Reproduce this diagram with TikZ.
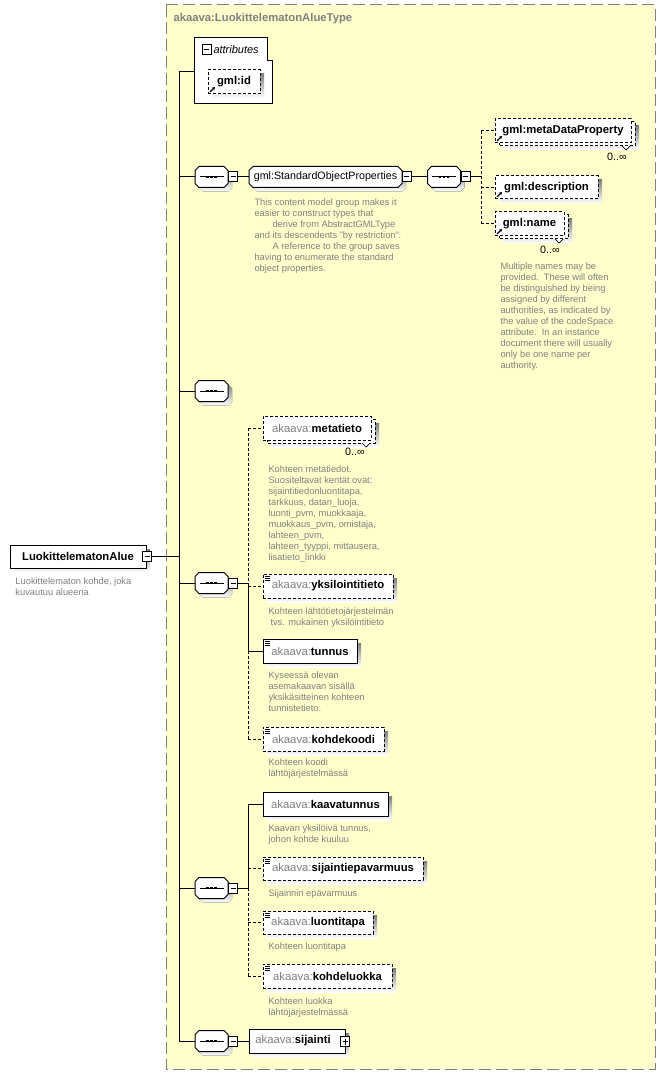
\documentclass[tikz,border=0pt]{standalone}
\usepackage{fontspec}
\setmainfont{Liberation Sans}
\usetikzlibrary{arrows.meta}
\definecolor{paper}{RGB}{255,255,204}
\definecolor{shade}{RGB}{192,192,192}
\definecolor{remark}{RGB}{128,128,128}
\definecolor{rim}{RGB}{128,128,128}
\newcommand{\namefont}{\fontsize{11.3}{13}\selectfont\bfseries}
\newcommand{\plainfont}{\fontsize{10.7}{13}\selectfont}
\newcommand{\notefont}{\fontsize{9.3}{11}\selectfont}
\newcommand{\attrfont}{\fontsize{11}{13}\selectfont\itshape}
\newcommand{\ak}[1]{{\mdseries\color{remark}akaava:}#1}
% octagon with its shadow: centre x, centre y, half width, half height
\newcommand{\octo}[4]{
  \fill[shade, shift={(4,4)}] (#1-#3+4,#2-#4) -- (#1+#3-4,#2-#4) -- (#1+#3,#2-#4+4) -- (#1+#3,#2+#4-4) -- (#1+#3-4,#2+#4) -- (#1-#3+4,#2+#4) -- (#1-#3,#2+#4-4) -- (#1-#3,#2-#4+4) -- cycle;
  \draw[fill=white] (#1-#3+4,#2-#4) -- (#1+#3-4,#2-#4) -- (#1+#3,#2-#4+4) -- (#1+#3,#2+#4-4) -- (#1+#3-4,#2+#4) -- (#1-#3+4,#2+#4) -- (#1-#3,#2+#4-4) -- (#1-#3,#2-#4+4) -- cycle;
}
\newcommand{\seqnode}[3]{
  \octo{#2}{#3}{16.5}{10.5}
  \node[seqhit] (#1) at (#2,#3) {};
  \draw ([xshift=-12pt]#1.center) -- ([xshift=12pt]#1.center);
  \foreach \d in {-4,0,4}{\fill ([xshift=\d pt]#1.center) +(-1.4pt,-1.4pt) rectangle +(1.4pt,1.4pt);}
}
\newcommand{\elembox}[7][]{
  \fill[shade] (#3+4,#4+4) rectangle (#5+4,#6+4);
  \node[boxline, #1, minimum width={(#5-#3)*1pt}, minimum height={(#6-#4)*1pt}] (#2) at ({(#3+#5)/2},{(#4+#6)/2}) {#7};
}
\newcommand{\manybox}[6]{
  \fill[shade] (#2+8,#3+7) rectangle (#4+8,#5+7);
  \draw[fill=white, opt] (#2+4,#3+3) rectangle (#4+4,#5+3);
  \draw[line width=.7pt, fill=white] (#4-9,#5+3) -- (#4-5,#5+7) -- (#4-1,#5+3);
  \node[boxline, opt, minimum width={(#4-#2)*1pt}, minimum height={(#5-#3)*1pt}] (#1) at ({(#2+#4)/2},{(#3+#5)/2}) {#6};
}
\newcommand{\refmark}[1]{\draw[line width=1.1pt,-{Stealth[length=3pt,width=3.5pt]}] ([xshift=2pt,yshift=2pt]#1.south west) -- ++(5pt,5pt);}
\newcommand{\typemark}[1]{\foreach \k in {2,4,6}{\draw[line width=.7pt] ([xshift=1.5pt,yshift=-\k pt]#1.north west) -- ++(5pt,0pt);}}

\begin{document}
\begin{tikzpicture}[x=1pt, y=-1pt, line width=1pt,
  seqhit/.style={minimum width=33pt, minimum height=21pt, inner sep=0pt, outer sep=0pt},
  boxline/.style={draw, fill=white, inner sep=0pt, outer sep=0pt, font=\namefont},
  opt/.style={dash pattern=on 3pt off 2pt},
  toggle/.style={draw, fill=white, minimum width=9pt, minimum height=10pt, inner sep=0pt, outer sep=0pt},
  minus/.style={toggle, path picture={\draw ([xshift=2pt]path picture bounding box.west) -- ([xshift=-2pt]path picture bounding box.east);}},
  plus/.style={toggle, path picture={\draw ([xshift=2pt]path picture bounding box.west) -- ([xshift=-2pt]path picture bounding box.east);
    \draw ([yshift=-2pt]path picture bounding box.north) -- ([yshift=2pt]path picture bounding box.south);}},
  memo/.style={anchor=north west, align=left, inner sep=0pt, font=\notefont, text=remark},
  occurs/.style={inner sep=0pt, font=\plainfont}]
\fill[white] (0,0) rectangle (665,1075);
\useasboundingbox (0,0) rectangle (665,1075);
\draw[rim, fill=paper, dash pattern=on 12pt off 5pt] (166,5) rectangle (655,1069);
\node[anchor=base west, inner sep=0pt, font=\namefont, text=rim] (title) at (173,22) {akaava:LuokittelematonAlueType};

% root element
\elembox{root}{10}{545}{146}{568}{LuokittelematonAlue}
\node[minus] (rm) at (147,556) {};
\node[memo] (rootnote) at (15,577) {Luokittelematon kohde, joka\\kuvautuu alueena};

% attributes
\draw[fill=white] (194,38) -- (267,38) -- (267,61) -- (272,61) -- (272,104) -- (194,104) -- cycle;
\node[minus] (am) at (206.5,50) {};
\node[anchor=base west, inner sep=0pt, font=\attrfont] (attrs) at (213,54) {attributes};
\elembox[opt]{gmlid}{208}{70}{260}{94}{gml:id}
\refmark{gmlid}

\coordinate (tTop) at (179,72);
\coordinate (tBot) at (179,1041);
\coordinate (attrIn) at (194,72);
\draw (tTop) -- (tBot);
\draw (tTop) -- (attrIn);

% StandardObjectProperties
\seqnode{s1}{211.5}{177}
\node[minus] (s1m) at (233,177) {};
\octo{325.5}{177}{76.5}{10.5}
\node[seqhit, minimum width=153pt, font=\plainfont] (sop) at (325.5,177) {gml:StandardObjectProperties};
\node[minus] (sopm) at (406.5,177) {};
\node[memo] (sopnote) at (254,198) {This content model group makes it\\easier to construct types that\\\hspace*{18pt}derive from AbstractGMLType\\and its descendents "by restriction".\\\hspace*{18pt}A reference to the group saves\\having to enumerate the standard\\object properties.};
\seqnode{s2}{444}{177}
\node[minus] (s2m) at (465.5,177) {};
\coordinate (j2) at (481,177);

\manybox{mdp}{495}{119}{631}{143}{gml:metaDataProperty}
\refmark{mdp}
\node[occurs] (mdpn) at (617,157) {0..∞};
\elembox[opt]{gdesc}{495}{176}{598}{199}{gml:description}
\refmark{gdesc}
\manybox{gname}{495}{212}{564}{236}{gml:name}
\refmark{gname}
\node[occurs] (gnamen) at (550,250) {0..∞};
\node[memo] (gnamenote) at (500,262) {Multiple names may be\\provided.\ \ These will often\\be distinguished by being\\assigned by different\\authorities, as indicated by\\the value of the codeSpace\\attribute.\ \ In an instance\\document there will usually\\only be one name per\\authority.};

\draw (s1m.east) -- (sop.west);
\draw (sopm.east) -- (s2.west);
\draw (s2m.east) -- (j2);
\draw[opt] (j2 |- mdp.west) -- (j2 |- gname.west);
\foreach \e in {mdp,gdesc,gname} \draw[opt] (j2 |- \e.west) -- (\e.west);

% empty sequence
\seqnode{s3}{211.5}{391}

% metatieto group
\seqnode{s4}{211.5}{583}
\node[minus] (s4m) at (233,583) {};
\coordinate (j4) at (248,583);
\manybox{meta}{263}{416}{371}{440}{\ak{metatieto}}
\node[occurs] (metan) at (355,452) {0..∞};
\node[memo] (metanote) at (268,465) {Kohteen metatiedot.\\Suositeltavat kentät ovat:\\sijaintitiedonluontitapa,\\tarkkuus, datan\_luoja,\\luonti\_pvm, muokkaaja,\\muokkaus\_pvm, omistaja,\\lahteen\_pvm,\\lahteen\_tyyppi, mittausera,\\lisatieto\_linkki};
\elembox[opt]{yksil}{263}{574}{393}{598}{\ak{yksilointitieto}}
\typemark{yksil}
\node[memo] (yksilnote) at (268,607) {Kohteen lähtötietojärjestelmän\\\hspace*{2pt}tvs. mukainen yksilöintitieto};
\elembox{tunnus}{263}{639}{357}{663}{\ak{tunnus}}
\typemark{tunnus}
\node[memo] (tunnusnote) at (268,671) {Kyseessä olevan\\asemakaavan sisällä\\yksikäsitteinen kohteen\\tunnistetieto.};
\elembox[opt]{kkoodi}{263}{727}{384}{751}{\ak{kohdekoodi}}
\typemark{kkoodi}
\node[memo] (kkoodinote) at (268,758) {Kohteen koodi\\lähtöjärjestelmässä};

\draw (s4m.east) -- (j4);
\draw[opt] (j4 |- meta.west) -- (j4);
\draw (j4) -- (j4 |- tunnus.west);
\draw[opt] (j4 |- tunnus.west) -- (j4 |- kkoodi.west);
\draw (j4 |- tunnus.west) -- (tunnus.west);
\foreach \e in {meta,yksil,kkoodi} \draw[opt] (j4 |- \e.west) -- (\e.west);

% kaava group
\seqnode{s5}{211.5}{888}
\node[minus] (s5m) at (233,888) {};
\coordinate (j5) at (248,888);
\elembox{ktunnus}{263}{792}{388}{816}{\ak{kaavatunnus}}
\node[memo] (ktunnusnote) at (268,824) {Kaavan yksilöivä tunnus,\\johon kohde kuuluu};
\elembox[opt]{sepav}{263}{857}{423}{880}{\ak{sijaintiepavarmuus}}
\typemark{sepav}
\node[memo] (sepavnote) at (268,889) {Sijainnin epävarmuus};
\elembox[opt]{ltapa}{263}{911}{373}{934}{\ak{luontitapa}}
\typemark{ltapa}
\node[memo] (ltapanote) at (268,942) {Kohteen luontitapa};
\elembox[opt]{kluokka}{263}{964}{392}{988}{\ak{kohdeluokka}}
\typemark{kluokka}
\node[memo] (kluokkanote) at (268,997) {Kohteen luokka\\lähtöjärjestelmässä};

\draw (s5m.east) -- (j5);
\draw (j5 |- ktunnus.west) -- (j5);
\draw[opt] (j5) -- (j5 |- kluokka.west);
\draw (j5 |- ktunnus.west) -- (ktunnus.west);
\foreach \e in {sepav,ltapa,kluokka} \draw[opt] (j5 |- \e.west) -- (\e.west);

% sijainti
\seqnode{s6}{211.5}{1041}
\node[minus] (s6m) at (233,1041) {};
\elembox{sij}{249}{1029}{345}{1053}{\ak{sijainti}\hspace*{8pt}}
\node[plus] (sijp) at (345,1041.5) {};
\draw (s6m.east) -- (sij.west);

\draw (rm.east) -- (rm.east -| tTop);
\foreach \s in {s1,s3,s4,s5,s6} \draw (\s.west) -- (\s.west -| tTop);
\end{tikzpicture}
\end{document}
